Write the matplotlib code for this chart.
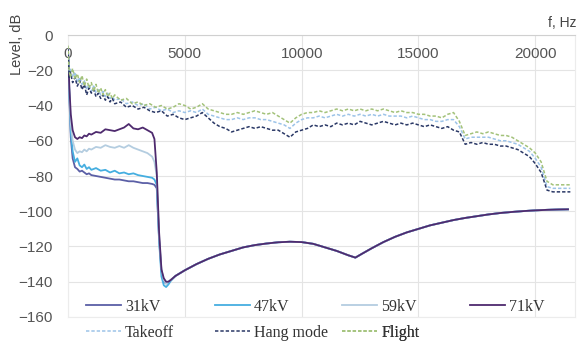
import numpy as np
import matplotlib
matplotlib.use("Agg")
import matplotlib.pyplot as plt

# ---- Low-frequency part of the spectra for each supply voltage (Hz, dB) ----
freq_low = [0, 60, 120, 200, 300, 400, 500, 600, 700, 800, 900, 1000,
            1200, 1400, 1600, 1800, 2000, 2200, 2400, 2600, 2800, 3000,
            3200, 3400, 3600, 3700, 3800, 3900, 4000, 4100, 4200, 4300, 4400]

level_31kv_low = [-8, -36, -58, -70, -75, -76, -77.5, -77, -78, -79, -78.5, -79.5,
                  -80, -80.5, -81, -81.5, -82, -82, -82.5, -83, -83, -83.5,
                  -84, -84, -84.5, -85, -87, -116, -134, -140, -141, -140, -139]
level_47kv_low = [-8, -34, -55, -66, -72, -70, -74, -75, -73.5, -76, -75, -76.5,
                  -75.5, -77, -76.5, -78, -77, -78.5, -78, -79, -78.5, -79.5,
                  -80, -80.5, -81, -82, -85, -117, -137, -142, -143, -141.5, -139.5]
level_59kv_low = [-8, -32, -50, -60, -65, -67, -66, -66.5, -65, -66, -64.5, -65,
                  -63.5, -64, -62.5, -63.5, -64, -63, -64, -62.5, -64, -65,
                  -66, -67, -69, -72, -80, -114, -133, -139, -141, -140, -139]
level_71kv_low = [-8, -30, -45, -54, -58, -59, -58, -58.5, -57, -57.5, -56, -56.5,
                  -55, -55.5, -53.5, -54, -54.5, -53.5, -52.5, -50.5, -53, -53.5,
                  -52.5, -54, -55.5, -59, -78, -112, -133, -138, -140, -140, -139]

# ---- Common high-frequency tail shared by all voltages ----
freq_tail = [4600, 5000, 5500, 6000, 6500, 7000, 7500, 8000, 8500, 9000, 9500,
             10000, 10500, 11000, 11500, 12000, 12300, 12600, 13000, 13500,
             14000, 14500, 15000, 15500, 16000, 16500, 17000, 17500, 18000,
             18500, 19000, 19500, 20000, 20500, 21000, 21400]
level_tail = [-136.7, -133.5, -130, -127, -124.5, -122.5, -120.5, -119.2, -118.3,
              -117.6, -117.3, -117.5, -118.5, -120.5, -122.5, -125, -126.3, -124,
              -121, -117.5, -114.5, -112, -110, -108, -106.5, -105, -103.8,
              -102.8, -101.8, -101, -100.4, -99.9, -99.5, -99.2, -99, -98.9]

# ---- Acoustic spectra of the flight modes (Hz, dB) ----
freq_mode = ([0, 50, 100, 200, 300, 400, 500, 600, 700, 800, 900, 1000,
              1100, 1200, 1300, 1400, 1500, 1600, 1700, 1800, 1900, 2000]
             + list(range(2250, 21501, 250)))

level_takeoff = [-7, -22, -19, -24, -21, -27, -24, -28, -26, -31, -28, -32,
                 -29, -33, -31, -34, -32, -35, -33, -36, -35, -37,
                 -36, -39, -38, -40, -39, -42, -41, -43, -42, -44, -43, -44,
                 -43, -44, -42, -45, -46, -47, -48, -48, -47, -48, -47, -47,
                 -48, -48, -49, -50, -51, -53, -50, -48, -47, -47, -46, -47,
                 -46, -45, -46, -45, -46, -45, -46, -45, -46, -45, -46, -46,
                 -46, -47, -46, -47, -48, -48, -49, -49, -48, -48, -52, -59,
                 -58, -58, -58, -58, -59, -60, -60, -61, -62, -64, -66, -70,
                 -75, -86, -87, -87, -87, -87]
level_hang = [-8, -24, -21, -27, -24, -29, -26, -31, -28, -34, -30, -33,
              -31, -35, -33, -36, -34, -37, -35, -38, -36, -39,
              -38, -41, -40, -42, -41, -43, -44, -43, -46, -45, -47, -48,
              -47, -46, -44, -47, -50, -52, -53, -55, -54, -53, -52, -53,
              -52, -53, -54, -54, -56, -58, -55, -54, -53, -51, -52, -51,
              -52, -50, -51, -50, -51, -49, -50, -51, -50, -49, -50, -51,
              -50, -51, -50, -51, -52, -51, -52, -53, -52, -54, -55, -62,
              -61, -62, -61, -62, -62, -63, -63, -64, -65, -67, -69, -73,
              -78, -88, -89, -89, -89, -89]
level_flight = [-6, -20, -24, -19, -25, -22, -27, -23, -29, -25, -30, -27,
                -32, -28, -33, -30, -34, -31, -35, -33, -36, -34,
                -37, -36, -39, -38, -40, -39, -41, -40, -42, -41, -39, -40,
                -42, -41, -39, -42, -43, -44, -45, -45, -44, -45, -44, -43,
                -44, -45, -44, -46, -48, -50, -47, -45, -44, -44, -43, -44,
                -43, -42, -43, -42, -43, -42, -43, -42, -43, -42, -43, -44,
                -43, -44, -44, -45, -45, -46, -46, -47, -45, -44, -49, -57,
                -56, -55, -56, -55, -56, -57, -57, -58, -60, -62, -64, -67,
                -72, -83, -85, -85, -85, -85]

voltage_labels = ["31kV", "47kV", "59kV", "71kV"]
voltage_colors = ["#5b5fa6", "#45aee0", "#b4cde0", "#4e2a6e"]
mode_labels = ["Takeoff", "Hang mode", "Flight"]
mode_colors = ["#9cc3e8", "#2a3866", "#a3c27a"]

x_ticks = [0, 5000, 10000, 15000, 20000]
y_ticks = [0, -20, -40, -60, -80, -100, -120, -140, -160]

tick_color = "#555555"
grid_color = "#e4e4e4"

fig = plt.figure(figsize=(5.82, 3.49), dpi=100)
ax = fig.add_axes([0.1168, 0.0917, 0.8712, 0.808])

voltage_lows = [level_31kv_low, level_47kv_low, level_59kv_low, level_71kv_low]
voltage_handles = []
for lab, col, low in zip(voltage_labels, voltage_colors, voltage_lows):
    f = list(freq_low) + list(freq_tail)
    v = list(low) + list(level_tail)
    h, = ax.plot(f, v, color=col, lw=1.3, label=lab, zorder=3,
                 solid_joinstyle="round")
    voltage_handles.append(h)

mode_levels = [level_takeoff, level_hang, level_flight]
mode_handles = []
for lab, col, lev in zip(mode_labels, mode_colors, mode_levels):
    h, = ax.plot(freq_mode, lev, color=col, lw=1.1, ls=(0, (2.2, 1.3)),
                 label=lab, zorder=4)
    mode_handles.append(h)

ax.set_xlim(0, 21700)
ax.set_ylim(-160, 0)
ax.set_xticks(x_ticks)
ax.set_yticks(y_ticks)
ax.grid(True, color=grid_color, lw=0.8)
ax.set_axisbelow(True)

ax.xaxis.set_ticks_position("top")
ax.tick_params(axis="x", length=0, pad=-19, labelcolor=tick_color)
ax.tick_params(axis="y", length=0, pad=11, labelcolor=tick_color)
for lbl in ax.get_xticklabels() + ax.get_yticklabels():
    lbl.set_fontfamily("Liberation Sans")
    lbl.set_fontsize(11)

for side, sp in ax.spines.items():
    sp.set_color("#ececec" if side != "top" else "#d0d0d0")
    sp.set_linewidth(0.8)

fig.text(0.029, 0.874, "Level, dB", rotation=90, ha="center", va="center",
         fontsize=10.5, family="Liberation Sans", color="#444444")
fig.text(0.99, 0.934, "f, Hz", ha="right", va="center",
         fontsize=10, family="Liberation Sans", color="#444444")

# legend entries laid out in two rows on a common column grid
legend_font = {"family": "Liberation Serif", "size": 11.5}
col_x = [86, 215, 342, 470]
row1_y, row2_y = 307, 333
W, H = 582.0, 349.0


def place_entry(handle, label, xpx, ypx):
    leg = ax.legend([handle], [label], loc="center left",
                    bbox_to_anchor=(xpx / W, 1 - ypx / H),
                    bbox_transform=fig.transFigure, frameon=False,
                    borderpad=0, borderaxespad=0, handlelength=2.2,
                    handletextpad=0.25, prop=legend_font,
                    labelcolor="#333333")
    ax.add_artist(leg)


for h, lab, xp in zip(voltage_handles, voltage_labels, col_x):
    place_entry(h, lab, xp, row1_y)
for h, lab, xp in zip(mode_handles, mode_labels, col_x):
    place_entry(h, lab, xp, row2_y)

fig.savefig("out.png", dpi=100)
